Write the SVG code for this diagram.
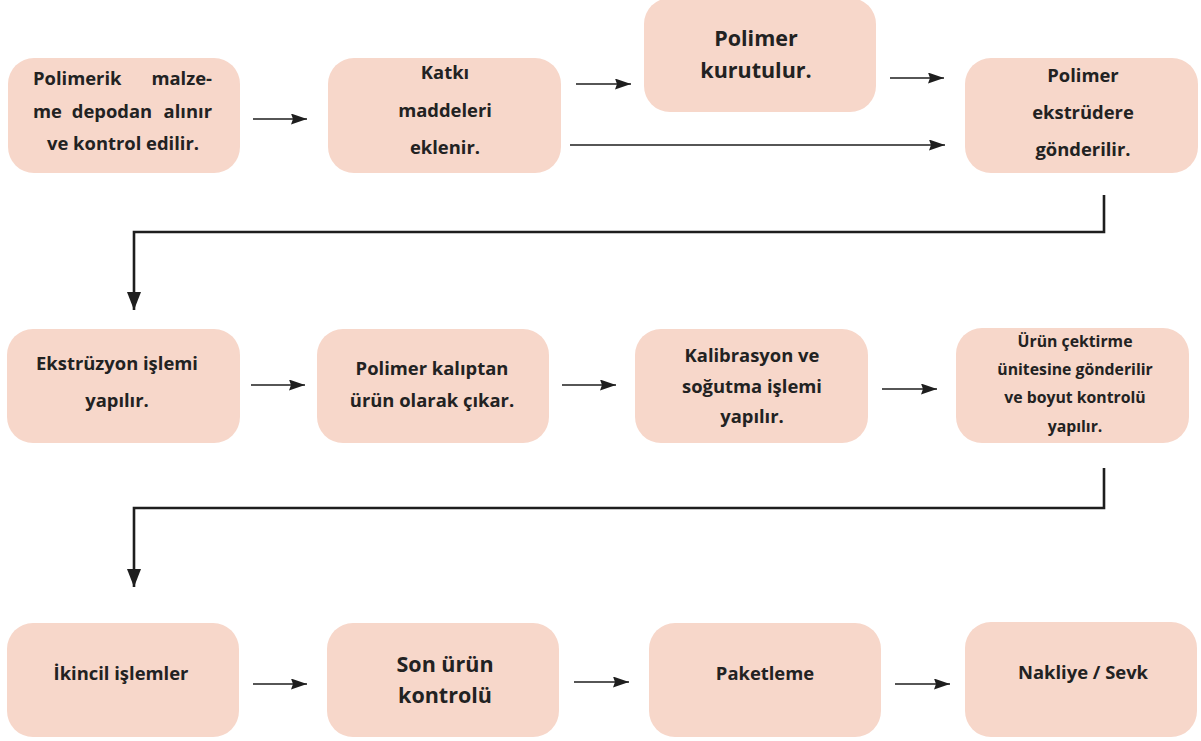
<svg xmlns="http://www.w3.org/2000/svg" width="1201" height="741" viewBox="0 0 1201 741">
  <defs>
    <style>
      .box { fill: #f7d7ca; }
      .t { font-family: "Open Sans", "Noto Sans", "Liberation Sans", sans-serif; font-weight: 700; font-size: 18.4px; fill: #222222; text-anchor: middle; }
      .s { text-anchor: start; }
      .e { text-anchor: end; }
      .big { font-size: 21.5px; }
      .small { font-size: 15.8px; }
      .arr { stroke: #1e1e1e; stroke-width: 1.6; fill: none; marker-end: url(#ah); }
      .elbow { stroke: #1e1e1e; stroke-width: 2.6; fill: none; marker-end: url(#ah2); }
    </style>
    <marker id="ah" viewBox="0 0 16 11" refX="16" refY="5.5" markerWidth="16" markerHeight="11" markerUnits="userSpaceOnUse" orient="auto">
      <path d="M0,0 L16,5.5 L0,11 L2,5.5 Z" fill="#1e1e1e"/>
    </marker>
    <marker id="ah2" viewBox="0 0 18 14" refX="18" refY="7" markerWidth="18" markerHeight="14" markerUnits="userSpaceOnUse" orient="auto">
      <path d="M0,0 L18,7 L0,14 Z" fill="#1e1e1e"/>
    </marker>
  </defs>
  <rect width="1201" height="741" fill="#ffffff"/>

  <!-- row 1 -->
  <g id="n1">
    <rect class="box" x="8" y="58" width="232" height="115" rx="26"/>
    <text class="t s" x="33" y="85">Polimerik</text>
    <text class="t e" x="212" y="85">malze-</text>
    <text class="t s" x="33" y="118">me</text>
    <text class="t" x="112" y="118">depodan</text>
    <text class="t e" x="212" y="118">alınır</text>
    <text class="t" x="123" y="150">ve kontrol edilir.</text>
  </g>
  <g id="n2">
    <rect class="box" x="328" y="58" width="233" height="115" rx="26"/>
    <text class="t" x="445" y="79">Katkı</text>
    <text class="t" x="445" y="117">maddeleri</text>
    <text class="t" x="445" y="154">eklenir.</text>
  </g>
  <g id="n3">
    <rect class="box" x="644" y="-2" width="232" height="114" rx="26"/>
    <text class="t big" x="756" y="46">Polimer</text>
    <text class="t big" x="756" y="78">kurutulur.</text>
  </g>
  <g id="n4">
    <rect class="box" x="965" y="58" width="233" height="115" rx="26"/>
    <text class="t" x="1083" y="82">Polimer</text>
    <text class="t" x="1083" y="119">ekstrüdere</text>
    <text class="t" x="1083" y="156">gönderilir.</text>
  </g>

  <!-- row 2 -->
  <g id="n5">
    <rect class="box" x="7" y="329" width="233" height="114" rx="26"/>
    <text class="t" x="117" y="370">Ekstrüzyon işlemi</text>
    <text class="t" x="117" y="407">yapılır.</text>
  </g>
  <g id="n6">
    <rect class="box" x="317" y="329" width="232" height="114" rx="26"/>
    <text class="t" x="432" y="375">Polimer kalıptan</text>
    <text class="t" x="432" y="407">ürün olarak çıkar.</text>
  </g>
  <g id="n7">
    <rect class="box" x="635" y="329" width="233" height="114" rx="26"/>
    <text class="t" x="752" y="362">Kalibrasyon ve</text>
    <text class="t" x="752" y="393">soğutma işlemi</text>
    <text class="t" x="752" y="423">yapılır.</text>
  </g>
  <g id="n8">
    <rect class="box" x="956" y="328" width="233" height="115" rx="26"/>
    <text class="t small" x="1075" y="347">Ürün çektirme</text>
    <text class="t small" x="1075" y="375">ünitesine gönderilir</text>
    <text class="t small" x="1075" y="403">ve boyut kontrolü</text>
    <text class="t small" x="1075" y="432">yapılır.</text>
  </g>

  <!-- row 3 -->
  <g id="n9">
    <rect class="box" x="7" y="623" width="232" height="114" rx="26"/>
    <text class="t" x="121" y="680">İkincil işlemler</text>
  </g>
  <g id="n10">
    <rect class="box" x="327" y="623" width="232" height="114" rx="26"/>
    <text class="t big" x="445" y="672">Son ürün</text>
    <text class="t big" x="445" y="703">kontrolü</text>
  </g>
  <g id="n11">
    <rect class="box" x="649" y="623" width="232" height="114" rx="26"/>
    <text class="t" x="765" y="680">Paketleme</text>
  </g>
  <g id="n12">
    <rect class="box" x="965" y="622" width="232" height="115" rx="26"/>
    <text class="t" x="1083" y="679">Nakliye / Sevk</text>
  </g>

  <!-- connectors -->
  <g id="connectors">
    <line class="arr" x1="253" y1="119" x2="307" y2="119"/>
    <line class="arr" x1="576" y1="84" x2="631" y2="84"/>
    <line class="arr" x1="570" y1="145" x2="945" y2="145"/>
    <line class="arr" x1="890" y1="78" x2="944" y2="78"/>
    <polyline class="elbow" points="1104,195 1104,232 134,232 134,310"/>

    <line class="arr" x1="251" y1="385" x2="305" y2="385"/>
    <line class="arr" x1="562" y1="385" x2="616" y2="385"/>
    <line class="arr" x1="882" y1="389" x2="937" y2="389"/>
    <polyline class="elbow" points="1104,468 1104,508 134,508 134,587"/>

    <line class="arr" x1="253" y1="684" x2="307" y2="684"/>
    <line class="arr" x1="574" y1="682" x2="629" y2="682"/>
    <line class="arr" x1="895" y1="684" x2="950" y2="684"/>
  </g>
</svg>
